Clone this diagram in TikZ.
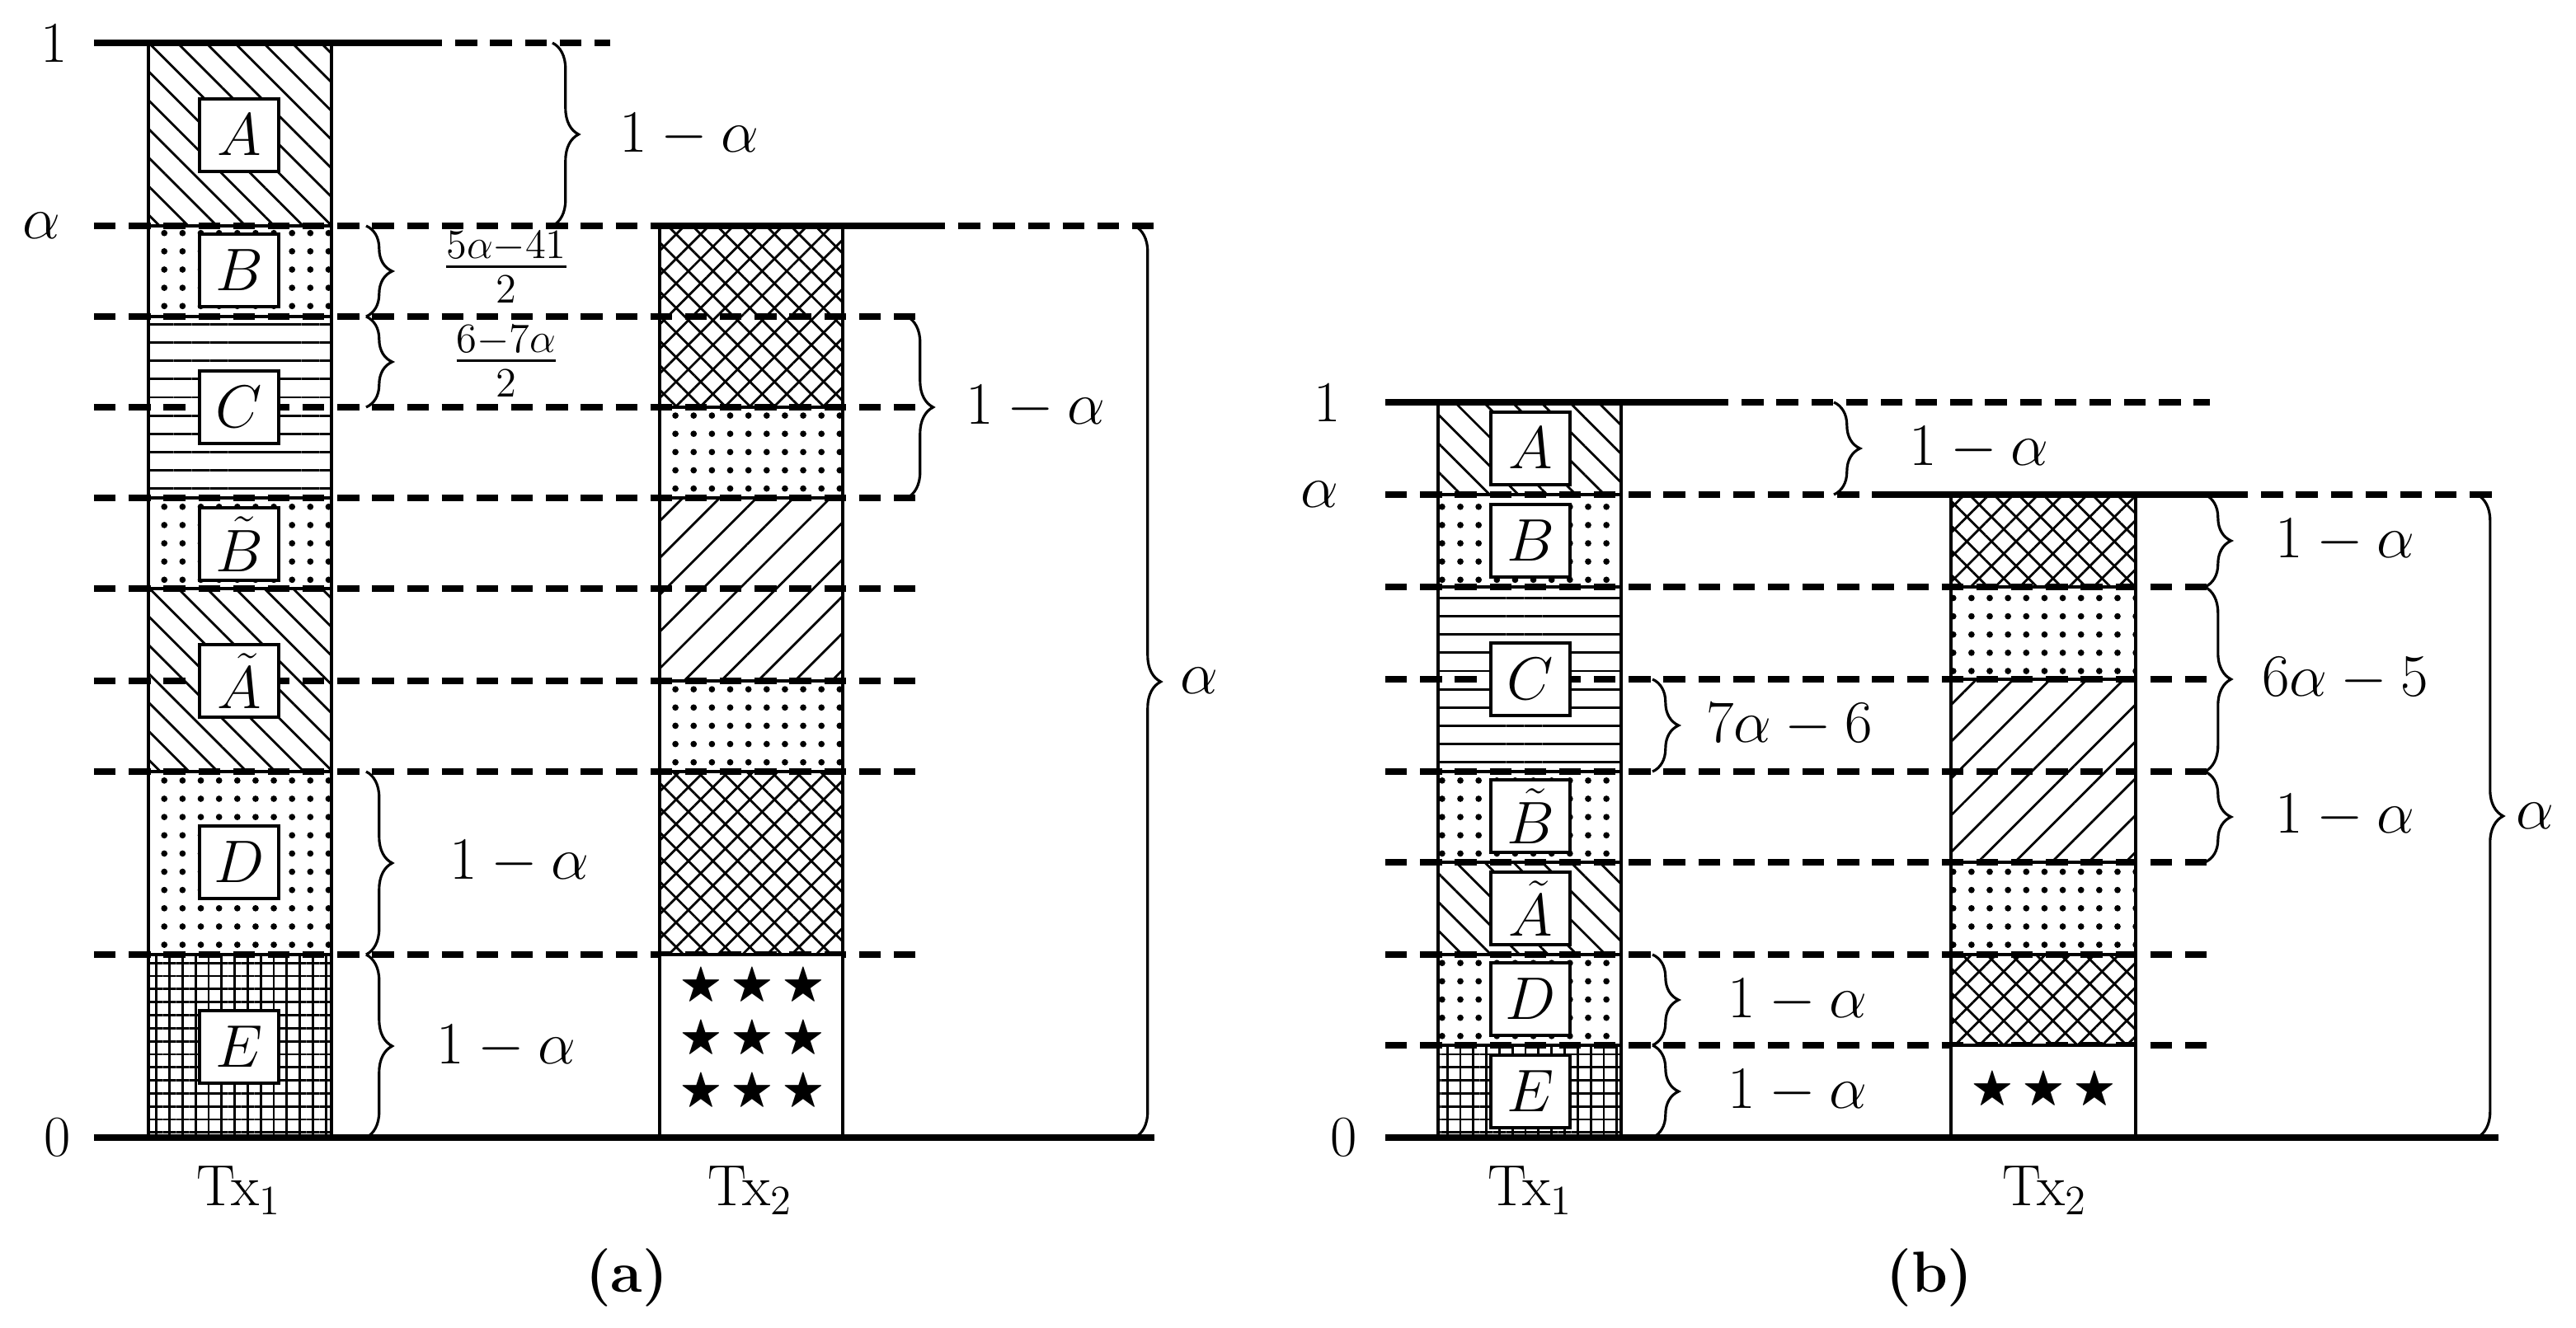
\documentclass[tikz,border=0pt]{standalone}
\usepackage{amsmath,amssymb}
\usetikzlibrary{patterns.meta,decorations.pathreplacing}
\tikzset{
  every node/.style={font=\fontsize{20}{24}\selectfont},
  col/.style={draw=black,line width=0.9pt},
  lbl/.style={draw=black,fill=white,line width=0.9pt,minimum width=0.96cm,minimum height=0.88cm,inner sep=0pt},
  lvldash/.style={line width=2pt,dash pattern=on 7.5pt off 4.5pt},
  lvlsolid/.style={line width=2pt},
  brc/.style={decorate,decoration={brace,amplitude=9pt},line width=0.9pt},
  star/.style={font=\fontsize{15}{18}\selectfont},
  pdots/.style={pattern={Dots[distance=6.3pt,radius=1.1pt]}},
  phor/.style={pattern={Lines[angle=0,distance=6.3pt,line width=0.8pt]}},
  pnw/.style={pattern={Lines[angle=-45,distance=7pt,line width=0.8pt]}},
  pne/.style={pattern={Lines[angle=45,distance=9pt,line width=0.8pt]}},
  pcross/.style={pattern={Hatch[angle=45,distance=6pt,line width=0.8pt]}},
  pgrid/.style={pattern={Hatch[angle=0,distance=4.5pt,line width=0.8pt]}}
}
\begin{document}
\begin{tikzpicture}[x=0.02cm,y=-0.02cm]
\useasboundingbox (0,0) rectangle (1562,805.5);

% ---------- (a) ----------
% levels
\draw[lvlsolid] (57,26) -- (255,26);
\draw[lvldash] (255,26) -- (370,26);
\draw[lvldash] (57,137) -- (400,137);
\draw[lvlsolid] (400,137) -- (560,137);
\draw[lvldash] (560,137) -- (700,137);
\foreach \ly in {192,247,302,357,413,468,579}
  \draw[lvldash] (57,\ly) -- (555,\ly);
% Tx1
\draw[col,pnw] (90,26) rectangle (201,137);
\draw[col,pdots] (90,137) rectangle (201,192);
\draw[col,phor] (90,192) rectangle (201,302);
\draw[col,pdots] (90,302) rectangle (201,357);
\draw[col,pnw] (90,357) rectangle (201,468);
\draw[col,pdots] (90,468) rectangle (201,579);
\draw[col,pgrid] (90,579) rectangle (201,690);
\node[lbl] (aA) at (145,82) {$A$};
\node[lbl] (aB) at (145,164) {$B$};
\node[lbl] (aC) at (145,247) {$C$};
\node[lbl] (aBt) at (145,330) {$\tilde{B}$};
\node[lbl] (aAt) at (145,413) {$\tilde{A}$};
\node[lbl] (aD) at (145,523) {$D$};
\node[lbl] (aE) at (145,635) {$E$};
% Tx2
\draw[col,pcross] (400,137) rectangle (511,247);
\draw[col,pdots] (400,247) rectangle (511,302);
\draw[col,pne] (400,302) rectangle (511,413);
\draw[col,pdots] (400,413) rectangle (511,468);
\draw[col,pcross] (400,468) rectangle (511,579);
\draw[col,fill=white] (400,579) rectangle (511,690);
\foreach \sx in {425,456,487}
  \foreach \sy in {598,630,662}
    \node[star] at (\sx,\sy) {$\bigstar$};
\draw[lvlsolid] (57,690) -- (700,690);
\node (a1) at (33,26) {1};
\node (aal) at (25,137) {$\alpha$};
\node (a0) at (35,690) {0};
\node (atx1) at (145,722) {Tx$_1$};
\node (atx2) at (455,722) {Tx$_2$};
\node (acap) at (380,775) {\textbf{(a)}};
% braces
\draw[brc] (335,26) -- (335,137);
\node at (418,82) {$1-\alpha$};
\draw[brc] (222,137) -- (222,192);
\node at (307,162) {$\frac{5\alpha-41}{2}$};
\draw[brc] (222,192) -- (222,247);
\node at (307,219) {$\frac{6-7\alpha}{2}$};
\draw[brc] (550,192) -- (550,302);
\node at (628,247) {$1-\alpha$};
\draw[brc] (688,137) -- (688,690);
\node at (727,413) {$\alpha$};
\draw[brc] (222,468) -- (222,579);
\node at (315,523) {$1-\alpha$};
\draw[brc] (222,579) -- (222,690);
\node at (307,635) {$1-\alpha$};

% ---------- (b) ----------
% levels
\draw[lvlsolid] (840,244) -- (1035,244);
\draw[lvldash] (1035,244) -- (1340,244);
\draw[lvldash] (840,300) -- (1145,300);
\draw[lvlsolid] (1145,300) -- (1350,300);
\draw[lvldash] (1350,300) -- (1515,300);
\foreach \ly in {356,412,468,523,579,634}
  \draw[lvldash] (840,\ly) -- (1340,\ly);
% Tx1
\draw[col,pnw] (872,244) rectangle (983,300);
\draw[col,pdots] (872,300) rectangle (983,356);
\draw[col,phor] (872,356) rectangle (983,468);
\draw[col,pdots] (872,468) rectangle (983,523);
\draw[col,pnw] (872,523) rectangle (983,579);
\draw[col,pdots] (872,579) rectangle (983,634);
\draw[col,pgrid] (872,634) rectangle (983,690);
\node[lbl] (bA) at (928,272) {$A$};
\node[lbl] (bB) at (928,328) {$B$};
\node[lbl] (bC) at (928,412) {$C$};
\node[lbl] (bBt) at (928,495) {$\tilde{B}$};
\node[lbl] (bAt) at (928,551) {$\tilde{A}$};
\node[lbl] (bD) at (928,606) {$D$};
\node[lbl] (bE) at (928,662) {$E$};
% Tx2
\draw[col,pcross] (1183,300) rectangle (1295,356);
\draw[col,pdots] (1183,356) rectangle (1295,412);
\draw[col,pne] (1183,412) rectangle (1295,523);
\draw[col,pdots] (1183,523) rectangle (1295,579);
\draw[col,pcross] (1183,579) rectangle (1295,634);
\draw[col,fill=white] (1183,634) rectangle (1295,690);
\foreach \sx in {1208,1239,1270}
  \node[star] at (\sx,661) {$\bigstar$};
\draw[lvlsolid] (840,690) -- (1515,690);
\node (b1) at (805,244) {1};
\node (bal) at (800,300) {$\alpha$};
\node (b0) at (815,690) {0};
\node (btx1) at (928,722) {Tx$_1$};
\node (btx2) at (1240,722) {Tx$_2$};
\node (bcap) at (1170,775) {\textbf{(b)}};
% braces
\draw[brc] (1112,244) -- (1112,300);
\node at (1200,272) {$1-\alpha$};
\draw[brc] (1337,300) -- (1337,356);
\node at (1422,328) {$1-\alpha$};
\draw[brc] (1337,356) -- (1337,468);
\node at (1422,412) {$6\alpha-5$};
\draw[brc] (1337,468) -- (1337,523);
\node at (1422,495) {$1-\alpha$};
\draw[brc] (1002,412) -- (1002,468);
\node at (1085,440) {$7\alpha-6$};
\draw[brc] (1002,579) -- (1002,634);
\node at (1090,607) {$1-\alpha$};
\draw[brc] (1002,634) -- (1002,690);
\node at (1090,662) {$1-\alpha$};
\draw[brc] (1502,300) -- (1502,690);
\node at (1537,495) {$\alpha$};
\end{tikzpicture}
\end{document}
